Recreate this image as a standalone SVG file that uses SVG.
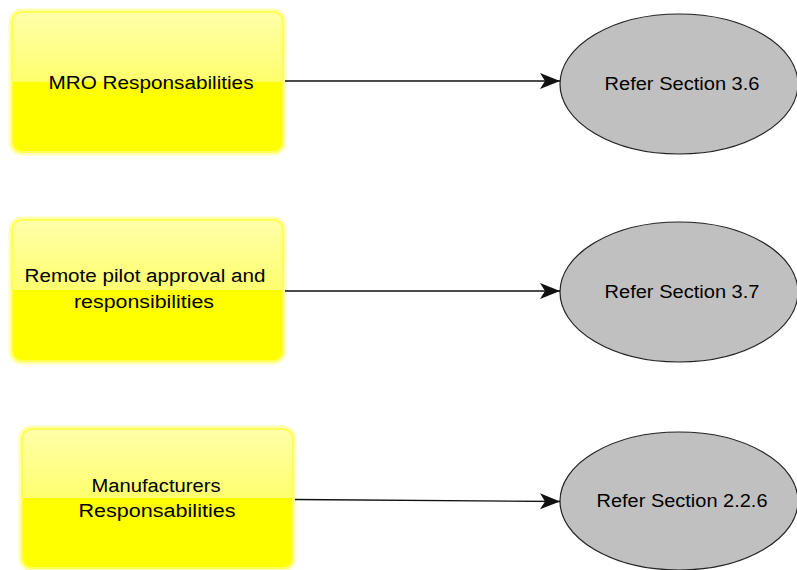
<svg xmlns="http://www.w3.org/2000/svg" width="797" height="570" viewBox="0 0 797 570">
  <style>
    .glow { fill: none; stroke: #ffffb0; stroke-width: 5; }
    .box { fill: url(#gloss); stroke: #ffff55; stroke-width: 2; }
    .ref { fill: #c0c0c0; stroke: #222; stroke-width: 1.2; }
    .lbl { font-family: "Liberation Sans", Arial, sans-serif; font-size: 18px; fill: #000; text-anchor: middle; }
    .edge { fill: none; stroke: #111; stroke-width: 1.3; marker-end: url(#arrow); }
  </style>
  <defs>
    <linearGradient id="gloss" x1="0" y1="0" x2="0" y2="1">
      <stop offset="0" stop-color="#ffffaa"/>
      <stop offset="0.495" stop-color="#ffff6e"/>
      <stop offset="0.5" stop-color="#ffff00"/>
      <stop offset="1" stop-color="#ffff00"/>
    </linearGradient>
    <marker id="arrow" markerUnits="userSpaceOnUse" markerWidth="22" markerHeight="18" refX="20" refY="8" orient="auto">
      <path d="M0,0 L20,8 L0,16 L5,8 Z" fill="#111"/>
    </marker>
  </defs>

  <!-- left column: responsibility boxes -->
  <g id="mro">
    <rect class="glow" x="11" y="11" width="273" height="142" rx="11"/>
    <rect class="box" x="12" y="12" width="271" height="140" rx="10"/>
    <text class="lbl" x="151" y="89" textLength="205" lengthAdjust="spacingAndGlyphs">MRO Responsabilities</text>
  </g>

  <g id="pilot">
    <rect class="glow" x="11" y="219" width="273" height="143" rx="11"/>
    <rect class="box" x="12" y="220" width="271" height="141" rx="10"/>
    <text class="lbl" x="145" y="282" textLength="241" lengthAdjust="spacingAndGlyphs">Remote pilot approval and</text>
    <text class="lbl" x="144" y="308" textLength="140" lengthAdjust="spacingAndGlyphs">responsibilities</text>
  </g>

  <g id="manufacturers">
    <rect class="glow" x="21" y="428" width="273" height="141" rx="11"/>
    <rect class="box" x="22" y="429" width="271" height="139" rx="10"/>
    <text class="lbl" x="156" y="492" textLength="129" lengthAdjust="spacingAndGlyphs">Manufacturers</text>
    <text class="lbl" x="157" y="517" textLength="157" lengthAdjust="spacingAndGlyphs">Responsabilities</text>
  </g>

  <!-- right column: section references -->
  <g id="sec36">
    <ellipse class="ref" cx="679" cy="84" rx="119" ry="70"/>
    <text class="lbl" x="682" y="90" textLength="155" lengthAdjust="spacingAndGlyphs">Refer Section 3.6</text>
  </g>

  <g id="sec37">
    <ellipse class="ref" cx="679" cy="292" rx="119" ry="70"/>
    <text class="lbl" x="682" y="298" textLength="155" lengthAdjust="spacingAndGlyphs">Refer Section 3.7</text>
  </g>

  <g id="sec226">
    <ellipse class="ref" cx="679" cy="501" rx="119" ry="69"/>
    <text class="lbl" x="682" y="507" textLength="171" lengthAdjust="spacingAndGlyphs">Refer Section 2.2.6</text>
  </g>

  <!-- connectors -->
  <g id="connectors">
    <line class="edge" x1="285" y1="81" x2="560" y2="81"/>
    <line class="edge" x1="285" y1="291" x2="560" y2="291"/>
    <line class="edge" x1="295" y1="499.5" x2="560" y2="501.5"/>
  </g>
</svg>
